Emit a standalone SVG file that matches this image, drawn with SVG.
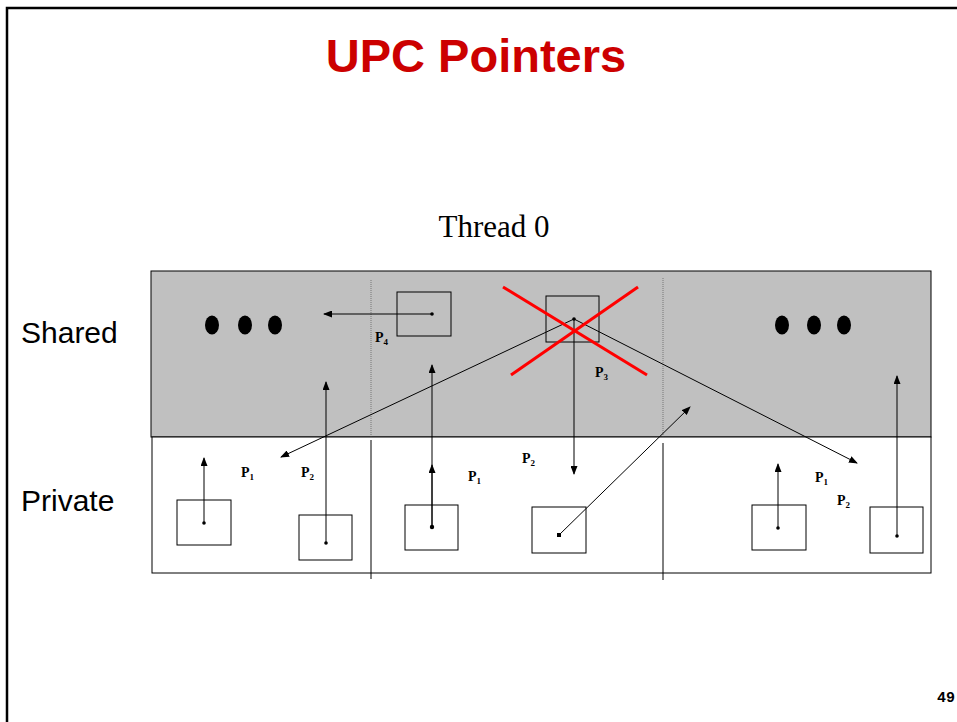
<svg xmlns="http://www.w3.org/2000/svg" width="957" height="722" viewBox="0 0 957 722">
<style>
.box{fill:none;stroke:#000;stroke-width:1}
.ln{stroke:#000;stroke-width:1;fill:none}
.arr{stroke:#000;stroke-width:1;fill:none;marker-end:url(#ah)}
.dot{fill:#000}
.dots{stroke:#777;stroke-width:1;stroke-dasharray:1 1;fill:none}
.div{stroke:#000;stroke-width:1}
.p{font-family:"Liberation Serif",serif;font-weight:bold;font-size:14px}
.sub{font-size:9px}
.lbl{font-family:"Liberation Sans",Arial,sans-serif;font-size:30px;fill:#000}
.x{stroke:#FF0000;stroke-width:3;fill:none}
</style>
<defs>
<marker id="ah" markerUnits="userSpaceOnUse" markerWidth="9" markerHeight="7" refX="8" refY="3.5" orient="auto">
<path d="M0,0 L9,3.5 L0,7 z" fill="#000"/>
</marker>
</defs>
<rect x="0" y="0" width="957" height="722" fill="#fff"/>
<rect x="7" y="8" width="1000" height="1000" fill="none" stroke="#000" stroke-width="2.5"/>
<text x="476" y="72" text-anchor="middle" font-family="Liberation Sans,Arial,sans-serif" font-weight="bold" font-size="47" fill="#CC0000">UPC Pointers</text>
<text x="494" y="237" text-anchor="middle" font-family="Liberation Serif,Times New Roman,serif" font-size="31" fill="#000">Thread 0</text>
<text class="lbl" x="21" y="343">Shared</text>
<text class="lbl" x="21" y="511">Private</text>
<g id="shared">
<rect x="151" y="271" width="780" height="166" fill="#C0C0C0" stroke="#000" stroke-width="1"/>
<line class="dots" x1="371" y1="280" x2="371" y2="437"/>
<line class="dots" x1="663" y1="278" x2="663" y2="437"/>
<ellipse cx="212" cy="325" rx="7" ry="9.5"/>
<ellipse cx="245" cy="325" rx="7" ry="9.5"/>
<ellipse cx="275" cy="325" rx="7" ry="9.5"/>
<ellipse cx="782" cy="325" rx="7" ry="9.5"/>
<ellipse cx="814" cy="325" rx="7" ry="9.5"/>
<ellipse cx="844" cy="325" rx="7" ry="9.5"/>
</g>
<g id="private">
<rect x="152" y="437" width="779" height="136" fill="#fff" stroke="#000" stroke-width="1"/>
<line class="div" x1="371" y1="440" x2="371" y2="579"/>
<line class="div" x1="663" y1="443" x2="663" y2="580"/>
</g>
<g id="p4-box"><rect class="box" x="397" y="292" width="54" height="44"/></g>
<g id="p3-box"><rect class="box" x="546" y="296" width="53" height="46"/></g>
<g id="t0-p1-box"><rect class="box" x="177" y="500" width="54" height="45"/></g>
<g id="t0-p2-box"><rect class="box" x="299" y="515" width="53" height="45"/></g>
<g id="t1-p1-box"><rect class="box" x="405" y="505" width="53" height="45"/></g>
<g id="t1-p2-box"><rect class="box" x="532" y="507" width="54" height="46"/></g>
<g id="t2-p1-box"><rect class="box" x="752" y="505" width="54" height="45"/></g>
<g id="t2-p2-box"><rect class="box" x="870" y="507" width="53" height="46"/></g>
<g id="connectors">
<line class="arr" x1="432" y1="314" x2="324" y2="314"/>
<line class="arr" x1="204" y1="523" x2="204" y2="458"/>
<line class="arr" x1="326" y1="543" x2="326" y2="382"/>
<line class="arr" x1="574" y1="319" x2="281" y2="457"/>
<line class="arr" x1="432" y1="527" x2="432" y2="465"/>
<line class="arr" x1="432" y1="527" x2="432" y2="365"/>
<line class="arr" x1="574" y1="319" x2="574" y2="474"/>
<line class="arr" x1="559" y1="535" x2="690" y2="407"/>
<line class="arr" x1="574" y1="319" x2="857" y2="463"/>
<line class="arr" x1="778" y1="528" x2="778" y2="464"/>
<line class="arr" x1="897" y1="536" x2="897" y2="376"/>
<circle class="dot" cx="432" cy="314" r="1.8"/>
<circle class="dot" cx="574" cy="319" r="1.8"/>
<circle class="dot" cx="204" cy="523" r="1.8"/>
<circle class="dot" cx="326" cy="543" r="1.8"/>
<circle class="dot" cx="432" cy="527" r="2.2"/>
<rect class="dot" x="557" y="533" width="4" height="4"/>
<circle class="dot" cx="778" cy="528" r="1.8"/>
<circle class="dot" cx="897" cy="536" r="1.8"/>
</g>
<g id="cross">
<line class="x" x1="503" y1="287" x2="647" y2="375"/>
<line class="x" x1="638" y1="287" x2="511" y2="375"/>
</g>
<g id="labels">
<text class="p" x="375" y="342">P<tspan class="sub" dy="3">4</tspan></text>
<text class="p" x="595" y="377">P<tspan class="sub" dy="3">3</tspan></text>
<text class="p" x="241" y="477">P<tspan class="sub" dy="3">1</tspan></text>
<text class="p" x="301" y="477">P<tspan class="sub" dy="3">2</tspan></text>
<text class="p" x="468" y="481">P<tspan class="sub" dy="3">1</tspan></text>
<text class="p" x="522" y="463">P<tspan class="sub" dy="3">2</tspan></text>
<text class="p" x="815" y="482">P<tspan class="sub" dy="3">1</tspan></text>
<text class="p" x="837" y="505">P<tspan class="sub" dy="3">2</tspan></text>
</g>
<text x="955" y="702" text-anchor="end" font-family="Liberation Mono,Courier New,monospace" font-weight="bold" font-size="15" fill="#000">49</text>
</svg>
